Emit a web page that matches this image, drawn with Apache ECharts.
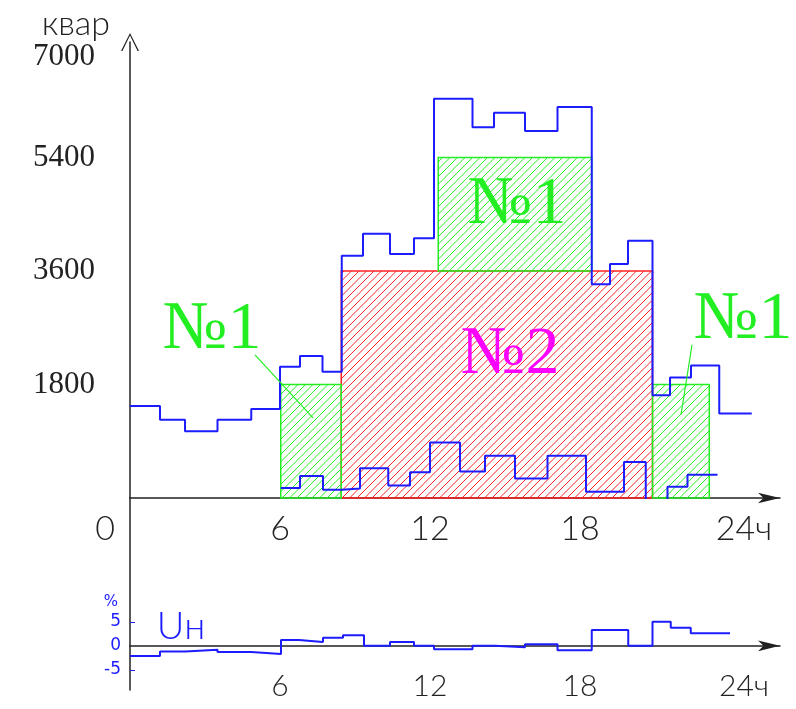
<!DOCTYPE html>
<html>
<head>
<meta charset="utf-8">
<script src="https://cdn.jsdelivr.net/npm/echarts@6/dist/echarts.min.js"></script>
<style>
  html, body { margin: 0; padding: 0; background: #fff; }
  #chart { width: 796px; height: 709px; }
</style>
</head>
<body>
<div id="chart"></div>
<script>
// hours where the steps change, and the value held until the next hour
const hoursQ = [0, 1.2, 2.2, 3.5, 4.85, 6.0, 6.8, 7.7, 8.47, 9.32, 10.4, 11.36, 12.16, 13.7, 14.56, 15.8, 17.1, 18.47, 19.2, 19.92, 20.9, 21.6, 22.44, 23.57, 24.87]
const loadQ = [1460, 1240, 1060, 1240, 1410, 2080, 2250, 2000, 3840, 4190, 3870, 4120, 6330, 5880, 6110, 5820, 6200, 3390, 3710, 4080, 1630, 1910, 2100, 1340]

const hoursRes = [6.03, 6.8, 7.72, 8.47, 9.2, 10.33, 11.2, 12.0, 13.2, 14.2, 15.4, 16.7, 18.24, 19.76, 20.63, 21.5, 22.3, 23.5]
const residualQ = [160, 350, 130, 150, 470, 200, 410, 880, 420, 670, 310, 670, 100, 570, -50, 180, 370]

const hoursU = [0, 1.2, 2.2, 3.5, 4.85, 6.04, 6.76, 7.72, 8.52, 9.36, 10.4, 11.36, 12.16, 13.7, 14.6, 15.8, 17.1, 18.47, 19.93, 20.9, 21.63, 22.43, 24]
const voltageDev = [-2.1, -1.2, -0.8, -1.3, -1.7, 1.2, 0.8, 1.7, 2.2, 0, 0.8, 0, -0.7, 0, -0.3, 0.35, -0.9, 3.3, 0, 5.0, 3.75, 2.6]

// capacitor banks: [from hour, to hour, bottom kvar, top kvar]
const bank1Blocks = [[6.03, 8.45, 0, 1800], [12.33, 18.47, 3600, 5400], [20.9, 23.17, 0, 1800]]
const bank2Blocks = [[8.45, 20.9, 0, 3600]]

const qTicks = [1800, 3600, 5400, 7000]
const hourTicks = [0, 6, 12, 18, 24]
const uTicks = [-5, 0, 5]

// annotations: [hour, value]
const bank1Labels = [[3.28, 2660], [15.48, 4650], [24.52, 2820]]
const bank2Labels = [[15.2, 2270]]
const leaderLines = [[5.0, 2270, 7.32, 1270], [22.48, 2430, 22.04, 1320]]
const uLabel = [[2.04, 3.9]]
const percentLabel = [[-0.76, 9.1]]

const GREEN = '#22ee22'
const RED = '#ff2222'
const BLUE = '#1c1cff'
const MAGENTA = '#ff00ff'
const CAD = 'Lato'

function stepData(hours, values) {
  let pts = values.map((v, i) => [hours[i], v])
  pts.push([hours[hours.length - 1], values[values.length - 1]])
  return pts
}

function hatchedBlock(color) {
  return function (params, api) {
    let tl = api.coord([api.value(0), api.value(3)])
    let br = api.coord([api.value(1), api.value(2)])
    let left = tl[0], top = tl[1], right = br[0], bottom = br[1]
    let step = 7.5
    let children = []
    for (let c = Math.ceil((left + top) / step) * step; c < right + bottom; c += step) {
      let xs = Math.max(left, c - bottom)
      let xe = Math.min(right, c - top)
      if (xe > xs) {
        children.push({ type: 'line', shape: { x1: xs, y1: c - xs, x2: xe, y2: c - xe }, style: { stroke: color, lineWidth: 1 } })
      }
    }
    children.push({ type: 'rect', shape: { x: left, y: top, width: right - left, height: bottom - top }, style: { fill: 'none', stroke: color, lineWidth: 1.5 } })
    return { type: 'group', children: children }
  }
}

function textMark(list, text, font, color) {
  return function (params, api) {
    let p = api.coord(list[params.dataIndex])
    return {
      type: 'text', x: p[0], y: p[1],
      style: { text: text, font: font, fill: color, align: 'center', verticalAlign: 'middle', textAlign: 'center', textVerticalAlign: 'middle' }
    }
  }
}

var Chart = echarts.init(document.getElementById('chart'))
var option = {
  animation: false,
  grid: [
    { left: 130, right: 16, top: 42, bottom: 211, outerBoundsMode: 'none' },
    { left: 130, right: 16, top: 498, bottom: 19, outerBoundsMode: 'none' }
  ],
  xAxis: [
    {
      type: 'value', gridIndex: 0, min: 0, max: 26,
      splitLine: { show: false },
      axisTick: { show: false },
      axisLine: { lineStyle: { color: '#222', width: 1.5 }, symbol: ['none', 'arrow'], symbolSize: [8, 22] },
      axisLabel: {
        customValues: hourTicks,
        margin: 14,
        fontSize: 34, fontFamily: CAD, fontWeight: 300, color: '#222',
        formatter: v => v === 0 ? '{z|0}' : (v === 24 ? '{e|24ч}' : '' + v),
        rich: {
          z: { fontSize: 34, fontFamily: CAD, fontWeight: 300, color: '#222', padding: [0, 50, 0, 0] },
          e: { fontSize: 34, fontFamily: CAD, fontWeight: 300, color: '#222', padding: [0, 0, 0, 28] }
        }
      }
    },
    {
      type: 'value', gridIndex: 1, min: 0, max: 26,
      splitLine: { show: false },
      axisTick: { show: false },
      axisLine: { onZero: true, lineStyle: { color: '#222', width: 1.5 }, symbol: ['none', 'arrow'], symbolSize: [8, 22] },
      axisLabel: {
        customValues: [6, 12, 18, 24],
        margin: -19,
        fontSize: 30, fontFamily: CAD, fontWeight: 300, color: '#222',
        formatter: v => v === 24 ? '{e|24ч}' : '' + v,
        rich: {
          e: { fontSize: 30, fontFamily: CAD, fontWeight: 300, color: '#222', padding: [0, 0, 0, 28] }
        }
      }
    }
  ],
  yAxis: [
    {
      type: 'value', gridIndex: 0, min: 0, max: 7230,
      name: 'квар', nameLocation: 'end', nameGap: -4,
      nameTextStyle: { fontSize: 34, fontFamily: CAD, fontWeight: 300, color: '#222', align: 'right', padding: [0, 20, 0, 0] },
      splitLine: { show: false },
      axisTick: { show: false },
      axisLine: {
        lineStyle: { color: '#222', width: 1.5 },
        symbol: ['none', 'path://M50,0 L100,100 L92,100 L50,14 L8,100 L0,100 Z'],
        symbolSize: [18, 48]
      },
      axisLabel: {
        customValues: qTicks,
        margin: 35,
        fontSize: 31, fontFamily: 'Liberation Serif', color: '#222',
        formatter: v => '' + v
      }
    },
    {
      type: 'value', gridIndex: 1, min: -9.2, max: 30.8,
      splitLine: { show: false },
      axisLine: { lineStyle: { color: '#222', width: 1.5 } },
      axisTick: { show: true, inside: true, length: 5, customValues: [-5, 5], lineStyle: { color: BLUE } },
      axisLabel: {
        customValues: uTicks,
        margin: 9,
        fontSize: 17, fontFamily: 'DejaVu Sans', color: BLUE
      }
    }
  ],
  series: [
    {
      name: '№2', type: 'custom', xAxisIndex: 0, yAxisIndex: 0, clip: false, z: 2,
      renderItem: hatchedBlock(RED), data: bank2Blocks, encode: { x: [0, 1], y: [2, 3] }
    },
    {
      name: '№1', type: 'custom', xAxisIndex: 0, yAxisIndex: 0, clip: false, z: 3,
      renderItem: hatchedBlock(GREEN), data: bank1Blocks, encode: { x: [0, 1], y: [2, 3] }
    },
    {
      name: 'Q', type: 'line', xAxisIndex: 0, yAxisIndex: 0, step: 'end', showSymbol: false, z: 5,
      lineStyle: { color: BLUE, width: 2 }, data: stepData(hoursQ, loadQ)
    },
    {
      name: 'Qres', type: 'line', xAxisIndex: 0, yAxisIndex: 0, step: 'end', showSymbol: false, z: 5,
      lineStyle: { color: BLUE, width: 2 }, data: stepData(hoursRes, residualQ)
    },
    {
      name: 'U', type: 'line', xAxisIndex: 1, yAxisIndex: 1, step: 'end', showSymbol: false, z: 5,
      lineStyle: { color: BLUE, width: 2 }, data: stepData(hoursU, voltageDev)
    },
    {
      type: 'custom', xAxisIndex: 0, yAxisIndex: 0, clip: false, z: 6, silent: true,
      data: leaderLines,
      renderItem: (params, api) => {
        let a = api.coord([api.value(0), api.value(1)])
        let b = api.coord([api.value(2), api.value(3)])
        return { type: 'line', shape: { x1: a[0], y1: a[1], x2: b[0], y2: b[1] }, style: { stroke: GREEN, lineWidth: 1.2 } }
      }
    },
    {
      type: 'custom', xAxisIndex: 0, yAxisIndex: 0, clip: false, z: 7, silent: true,
      data: bank1Labels, renderItem: textMark(bank1Labels, '№1', '68px "Liberation Serif"', GREEN)
    },
    {
      type: 'custom', xAxisIndex: 0, yAxisIndex: 0, clip: false, z: 7, silent: true,
      data: bank2Labels, renderItem: textMark(bank2Labels, '№2', '68px "Liberation Serif"', MAGENTA)
    },
    {
      type: 'custom', xAxisIndex: 1, yAxisIndex: 1, clip: false, z: 7, silent: true,
      data: uLabel, renderItem: textMark(uLabel, 'Uн', '300 38px Lato', BLUE)
    },
    {
      type: 'custom', xAxisIndex: 1, yAxisIndex: 1, clip: false, z: 7, silent: true,
      data: percentLabel, renderItem: textMark(percentLabel, '%', '15px "DejaVu Sans"', BLUE)
    }
  ]
}
Chart.setOption(option)
</script>
</body>
</html>
